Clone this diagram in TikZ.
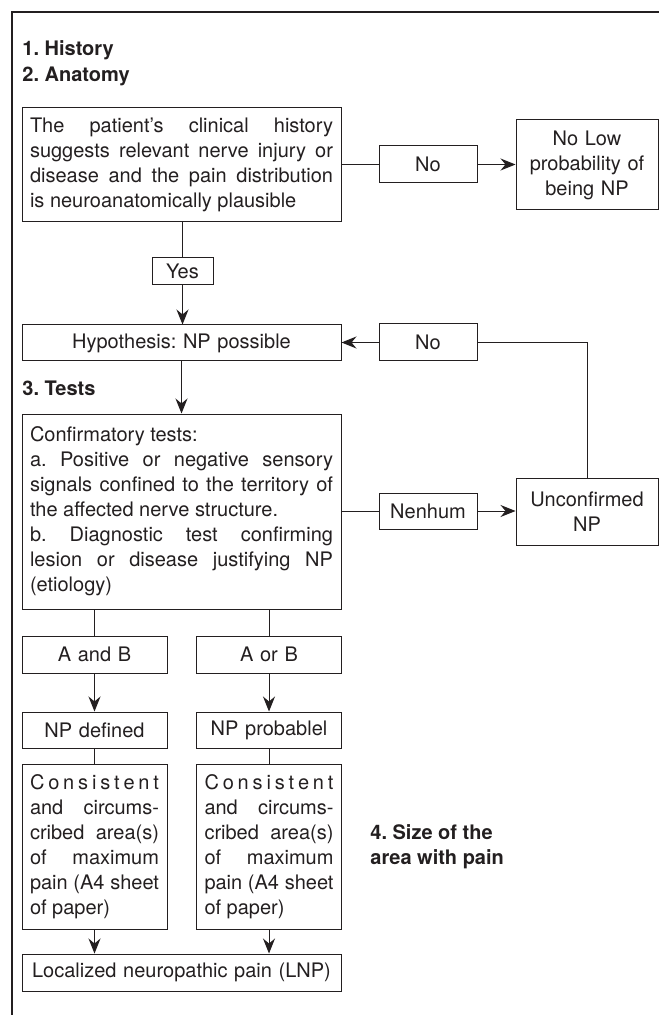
\documentclass[tikz,border=0pt]{standalone}
\usepackage{fontspec}
\setmainfont{TeX Gyre Heros}
\usetikzlibrary{arrows.meta}
\definecolor{ink}{HTML}{231F20}
\frenchspacing

\begin{document}
\begin{tikzpicture}[x=0.5pt,y=-0.5pt,
    every node/.style={font=\fontsize{10pt}{12.5pt}\selectfont, text=ink},
    box/.style={draw=ink, line width=0.5pt, inner xsep=4pt, inner ysep=0pt},
    wide/.style={box, text width=151.5pt},
    col/.style={box, text width=64.5pt},
    side/.style={box, text width=63pt, align=center},
    title/.style={font=\fontsize{10pt}{12.5pt}\selectfont\bfseries, inner sep=0pt, anchor=west, align=left},
    line/.style={draw=ink, line width=0.5pt},
    arr/.style={line, -{Stealth[length=7.5pt,width=6pt,inset=2.5pt]}}]
    \useasboundingbox (0,0) rectangle (659,1015);
    % --- frame ---
    \draw[draw=ink, line width=0.6pt] (12,1015) -- (12,12) -- (659,12);

    % --- 1. History / 2. Anatomy ---
    \node[title] (t1) at (22,50) {1. History};
    \node[title] (t2) at (22,76) {2. Anatomy};
    \node[wide, align=justify, minimum height=57pt] (hist) at (181.5,165)
        {The patient's clinical history\linebreak suggests relevant nerve injury or\linebreak disease and the pain distribution\linebreak is neuroanatomically plausible};
    \node[box, minimum width=49pt, minimum height=18.5pt] (no1) at (428,164.5) {No};
    \node[side, minimum height=45pt] (low) at (587,165) {No Low\\probability of\\being NP};
    \node[box, inner xsep=0pt, minimum width=30.5pt, minimum height=13.5pt] (yes) at (182.5,271.5) {Yes};
    \node[wide, align=center, minimum height=18pt] (hyp) at (181.5,343) {Hypothesis: NP possible};
    \node[box, minimum width=49pt, minimum height=18.5pt] (no2) at (428,342.5) {No};

    \draw[line] (no1.west -| hist.east) -- (no1.west);
    \draw[arr] (no1.east) -- (no1.east -| low.west);
    \draw[line] (hist.south -| yes) -- (yes.north);
    \draw[arr] (yes.south) -- (yes.south |- hyp.north);
    \draw[arr] (no2.west) -- (no2.west -| hyp.east);

    % --- 3. Tests ---
    \node[title] (t3) at (22,388) {3. Tests};
    \node[wide, align=justify, minimum height=97.5pt] (conf) at (181.5,511.5)
        {Confirmatory tests:\\
         a. Positive or negative sensory\linebreak signals confined to the territory of\linebreak the affected nerve structure.\\
         b. Diagnostic test confirming\linebreak lesion or disease justifying NP\linebreak (etiology)};
    \node[box, minimum width=49pt, minimum height=18pt] (nenhum) at (428,511) {Nenhum};
    \node[side, minimum height=33.5pt] (unconf) at (587,511.5) {Unconfirmed\\NP};

    \draw[arr] (hyp.south) -- (conf.north);
    \draw[line] (nenhum.west -| conf.east) -- (nenhum.west);
    \draw[arr] (nenhum.east) -- (nenhum.east -| unconf.west);
    \draw[line] (no2.east) -| (unconf.north);

    % --- A and B / A or B ---
    \node[col, align=center, minimum height=18.5pt] (andab) at (94.5,654.5) {A and B};
    \node[col, align=center, minimum height=18.5pt] (orab) at (269,654.5) {A or B};
    \node[col, align=center, minimum height=18pt] (npdef) at (94.5,730) {NP defined};
    \node[col, align=center, minimum height=18pt] (npprob) at (269,730) {NP probablel};
    \foreach \n in {1,2}{
        \pgfmathsetmacro{\xc}{ifthenelse(\n==1,94.5,269)}
        \node[col, align=justify, minimum height=82.5pt] (cons\n) at (\xc,846.5)
            {\makebox[\hsize][s]{C o n s i s t e n t}\linebreak and circums-\linebreak cribed area(s)\linebreak of maximum\linebreak pain (A4 sheet\linebreak of paper)};
    }
    \node[wide, align=center, minimum height=18.5pt] (lnp) at (181.5,972.5) {Localized neuropathic pain (LNP)};

    \draw[line] (conf.south -| andab) -- (andab.north);
    \draw[line] (conf.south -| orab) -- (orab.north);
    \draw[arr] (andab) -- (npdef);
    \draw[arr] (orab) -- (npprob);
    \draw[line] (npdef) -- (cons1);
    \draw[line] (npprob) -- (cons2);
    \draw[arr] (cons1.south) -- (cons1.south |- lnp.north);
    \draw[arr] (cons2.south) -- (cons2.south |- lnp.north);

    % --- 4. Size ---
    \node[title] (t4) at (370,847) {4. Size of the\\area with pain};
\end{tikzpicture}
\end{document}
